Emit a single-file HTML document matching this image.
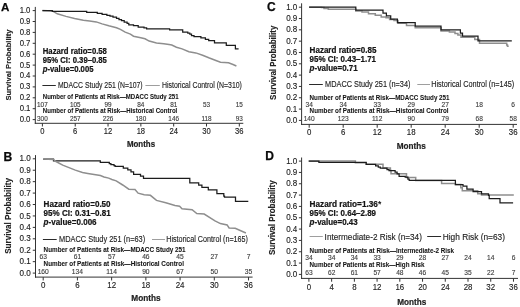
<!DOCTYPE html>
<html><head><meta charset="utf-8"><style>
html,body{margin:0;padding:0;background:#fff;}
body{width:520px;height:307px;overflow:hidden;}
svg{display:block;font-family:"Liberation Sans", sans-serif;will-change:transform;}
</style></head><body>
<svg width="520" height="307" viewBox="0 0 520 307">
<rect width="520" height="307" fill="#fff"/>
<text transform="translate(0.90,11.30) scale(1.0,1.0)" font-size="11.60" font-weight="bold" text-anchor="start" fill="#0a0a0a" stroke="#0a0a0a" stroke-width="0.25">A</text>
<text transform="translate(10.80,65.10) rotate(-90)" x="0" y="0" font-size="8.00" font-weight="bold" text-anchor="middle" fill="#222" stroke="#222" stroke-width="0.12" textLength="71.0" lengthAdjust="spacingAndGlyphs">Survival Probability</text>
<line x1="35.30" y1="6.90" x2="35.30" y2="123.80" stroke="#333" stroke-width="1"/>
<line x1="34.80" y1="123.30" x2="243.30" y2="123.30" stroke="#333" stroke-width="1"/>
<line x1="32.70" y1="119.60" x2="35.30" y2="119.60" stroke="#333" stroke-width="1"/>
<text transform="translate(30.40,122.05) scale(1.0,1.1)" font-size="7.75" font-weight="normal" text-anchor="end" fill="#222" stroke="#222" stroke-width="0.12">0.0</text>
<line x1="32.70" y1="108.70" x2="35.30" y2="108.70" stroke="#333" stroke-width="1"/>
<text transform="translate(30.40,111.15) scale(1.0,1.1)" font-size="7.75" font-weight="normal" text-anchor="end" fill="#222" stroke="#222" stroke-width="0.12">0.1</text>
<line x1="32.70" y1="97.80" x2="35.30" y2="97.80" stroke="#333" stroke-width="1"/>
<text transform="translate(30.40,100.25) scale(1.0,1.1)" font-size="7.75" font-weight="normal" text-anchor="end" fill="#222" stroke="#222" stroke-width="0.12">0.2</text>
<line x1="32.70" y1="86.90" x2="35.30" y2="86.90" stroke="#333" stroke-width="1"/>
<text transform="translate(30.40,89.35) scale(1.0,1.1)" font-size="7.75" font-weight="normal" text-anchor="end" fill="#222" stroke="#222" stroke-width="0.12">0.3</text>
<line x1="32.70" y1="76.00" x2="35.30" y2="76.00" stroke="#333" stroke-width="1"/>
<text transform="translate(30.40,78.45) scale(1.0,1.1)" font-size="7.75" font-weight="normal" text-anchor="end" fill="#222" stroke="#222" stroke-width="0.12">0.4</text>
<line x1="32.70" y1="65.10" x2="35.30" y2="65.10" stroke="#333" stroke-width="1"/>
<text transform="translate(30.40,67.55) scale(1.0,1.1)" font-size="7.75" font-weight="normal" text-anchor="end" fill="#222" stroke="#222" stroke-width="0.12">0.5</text>
<line x1="32.70" y1="54.20" x2="35.30" y2="54.20" stroke="#333" stroke-width="1"/>
<text transform="translate(30.40,56.65) scale(1.0,1.1)" font-size="7.75" font-weight="normal" text-anchor="end" fill="#222" stroke="#222" stroke-width="0.12">0.6</text>
<line x1="32.70" y1="43.30" x2="35.30" y2="43.30" stroke="#333" stroke-width="1"/>
<text transform="translate(30.40,45.75) scale(1.0,1.1)" font-size="7.75" font-weight="normal" text-anchor="end" fill="#222" stroke="#222" stroke-width="0.12">0.7</text>
<line x1="32.70" y1="32.40" x2="35.30" y2="32.40" stroke="#333" stroke-width="1"/>
<text transform="translate(30.40,34.85) scale(1.0,1.1)" font-size="7.75" font-weight="normal" text-anchor="end" fill="#222" stroke="#222" stroke-width="0.12">0.8</text>
<line x1="32.70" y1="21.50" x2="35.30" y2="21.50" stroke="#333" stroke-width="1"/>
<text transform="translate(30.40,23.95) scale(1.0,1.1)" font-size="7.75" font-weight="normal" text-anchor="end" fill="#222" stroke="#222" stroke-width="0.12">0.9</text>
<line x1="32.70" y1="10.60" x2="35.30" y2="10.60" stroke="#333" stroke-width="1"/>
<text transform="translate(30.40,13.05) scale(1.0,1.1)" font-size="7.75" font-weight="normal" text-anchor="end" fill="#222" stroke="#222" stroke-width="0.12">1.0</text>
<line x1="42.40" y1="123.30" x2="42.40" y2="126.50" stroke="#333" stroke-width="1"/>
<text transform="translate(42.40,134.00) scale(1.0,1.1)" font-size="7.60" font-weight="normal" text-anchor="middle" fill="#222" stroke="#222" stroke-width="0.12">0</text>
<line x1="75.22" y1="123.30" x2="75.22" y2="126.50" stroke="#333" stroke-width="1"/>
<text transform="translate(75.22,134.00) scale(1.0,1.1)" font-size="7.60" font-weight="normal" text-anchor="middle" fill="#222" stroke="#222" stroke-width="0.12">6</text>
<line x1="108.04" y1="123.30" x2="108.04" y2="126.50" stroke="#333" stroke-width="1"/>
<text transform="translate(108.04,134.00) scale(1.0,1.1)" font-size="7.60" font-weight="normal" text-anchor="middle" fill="#222" stroke="#222" stroke-width="0.12">12</text>
<line x1="140.86" y1="123.30" x2="140.86" y2="126.50" stroke="#333" stroke-width="1"/>
<text transform="translate(140.86,134.00) scale(1.0,1.1)" font-size="7.60" font-weight="normal" text-anchor="middle" fill="#222" stroke="#222" stroke-width="0.12">18</text>
<line x1="173.68" y1="123.30" x2="173.68" y2="126.50" stroke="#333" stroke-width="1"/>
<text transform="translate(173.68,134.00) scale(1.0,1.1)" font-size="7.60" font-weight="normal" text-anchor="middle" fill="#222" stroke="#222" stroke-width="0.12">24</text>
<line x1="206.50" y1="123.30" x2="206.50" y2="126.50" stroke="#333" stroke-width="1"/>
<text transform="translate(206.50,134.00) scale(1.0,1.1)" font-size="7.60" font-weight="normal" text-anchor="middle" fill="#222" stroke="#222" stroke-width="0.12">30</text>
<line x1="239.32" y1="123.30" x2="239.32" y2="126.50" stroke="#333" stroke-width="1"/>
<text transform="translate(239.32,134.00) scale(1.0,1.1)" font-size="7.60" font-weight="normal" text-anchor="middle" fill="#222" stroke="#222" stroke-width="0.12">36</text>
<text transform="translate(141.00,147.30) scale(1.0,1.1)" font-size="7.90" font-weight="bold" text-anchor="middle" fill="#222" stroke="#222" stroke-width="0.2">Months</text>
<text transform="translate(42.80,53.80) scale(1.0,1.1)" font-size="7.70" font-weight="bold" text-anchor="start" fill="#141414" stroke="#141414" stroke-width="0.2" textLength="64.1" lengthAdjust="spacingAndGlyphs">Hazard ratio=0.58</text>
<text transform="translate(42.80,62.70) scale(1.0,1.1)" font-size="7.70" font-weight="bold" text-anchor="start" fill="#141414" stroke="#141414" stroke-width="0.2">95% CI: 0.39–0.85</text>
<text transform="translate(42.80,71.60) scale(1.0,1.1)" font-size="7.70" font-weight="bold" text-anchor="start" fill="#141414" stroke="#141414" stroke-width="0.2"><tspan font-style="italic">p</tspan>-value=0.005</text>
<line x1="42.40" y1="85.50" x2="55.80" y2="85.50" stroke="#2a2a2a" stroke-width="1.0"/>
<text transform="translate(57.90,87.70) scale(1.0,1.1)" font-size="7.70" font-weight="normal" text-anchor="start" fill="#222" stroke="#222" stroke-width="0.12" textLength="84.7" lengthAdjust="spacingAndGlyphs">MDACC Study 251 (N=107)</text>
<line x1="145.40" y1="85.50" x2="159.80" y2="85.50" stroke="#9e9e9e" stroke-width="1.0"/>
<text transform="translate(162.00,87.70) scale(1.0,1.1)" font-size="7.70" font-weight="normal" text-anchor="start" fill="#222" stroke="#222" stroke-width="0.12" textLength="79.9" lengthAdjust="spacingAndGlyphs">Historical Control (N=310)</text>
<text transform="translate(42.80,99.20) scale(1.0,1.1)" font-size="6.00" font-weight="bold" text-anchor="start" fill="#141414" stroke="#141414" stroke-width="0.06" textLength="135.7" lengthAdjust="spacingAndGlyphs">Number of Patients at Risk—MDACC Study 251</text>
<text transform="translate(42.80,113.40) scale(1.0,1.1)" font-size="6.00" font-weight="bold" text-anchor="start" fill="#141414" stroke="#141414" stroke-width="0.06" textLength="134.5" lengthAdjust="spacingAndGlyphs">Number of Patients at Risk—Historical Control</text>
<text transform="translate(42.40,106.60) scale(1.0,1.1)" font-size="6.40" font-weight="normal" text-anchor="middle" fill="#3c3c3c" stroke="#3c3c3c" stroke-width="0.12">107</text>
<text transform="translate(75.22,106.60) scale(1.0,1.1)" font-size="6.40" font-weight="normal" text-anchor="middle" fill="#3c3c3c" stroke="#3c3c3c" stroke-width="0.12">105</text>
<text transform="translate(108.04,106.60) scale(1.0,1.1)" font-size="6.40" font-weight="normal" text-anchor="middle" fill="#3c3c3c" stroke="#3c3c3c" stroke-width="0.12">99</text>
<text transform="translate(140.86,106.60) scale(1.0,1.1)" font-size="6.40" font-weight="normal" text-anchor="middle" fill="#3c3c3c" stroke="#3c3c3c" stroke-width="0.12">84</text>
<text transform="translate(173.68,106.60) scale(1.0,1.1)" font-size="6.40" font-weight="normal" text-anchor="middle" fill="#3c3c3c" stroke="#3c3c3c" stroke-width="0.12">81</text>
<text transform="translate(206.50,106.60) scale(1.0,1.1)" font-size="6.40" font-weight="normal" text-anchor="middle" fill="#3c3c3c" stroke="#3c3c3c" stroke-width="0.12">53</text>
<text transform="translate(239.32,106.60) scale(1.0,1.1)" font-size="6.40" font-weight="normal" text-anchor="middle" fill="#3c3c3c" stroke="#3c3c3c" stroke-width="0.12">15</text>
<text transform="translate(42.40,120.60) scale(1.0,1.1)" font-size="6.40" font-weight="normal" text-anchor="middle" fill="#3c3c3c" stroke="#3c3c3c" stroke-width="0.12">300</text>
<text transform="translate(75.22,120.60) scale(1.0,1.1)" font-size="6.40" font-weight="normal" text-anchor="middle" fill="#3c3c3c" stroke="#3c3c3c" stroke-width="0.12">257</text>
<text transform="translate(108.04,120.60) scale(1.0,1.1)" font-size="6.40" font-weight="normal" text-anchor="middle" fill="#3c3c3c" stroke="#3c3c3c" stroke-width="0.12">226</text>
<text transform="translate(140.86,120.60) scale(1.0,1.1)" font-size="6.40" font-weight="normal" text-anchor="middle" fill="#3c3c3c" stroke="#3c3c3c" stroke-width="0.12">180</text>
<text transform="translate(173.68,120.60) scale(1.0,1.1)" font-size="6.40" font-weight="normal" text-anchor="middle" fill="#3c3c3c" stroke="#3c3c3c" stroke-width="0.12">146</text>
<text transform="translate(206.50,120.60) scale(1.0,1.1)" font-size="6.40" font-weight="normal" text-anchor="middle" fill="#3c3c3c" stroke="#3c3c3c" stroke-width="0.12">118</text>
<text transform="translate(239.32,120.60) scale(1.0,1.1)" font-size="6.40" font-weight="normal" text-anchor="middle" fill="#3c3c3c" stroke="#3c3c3c" stroke-width="0.12">93</text>
<path d="M42.4,10.6 L52.3,10.9 L57.3,13.8 L66.0,16.4 L74.6,18.5 L83.3,20.3 L89.6,20.9 L96.3,21.9 L102.1,23.9 L108.8,25.8 L116.5,27.7 L120.4,29.4 L125.2,32.1 L130.4,34.1 L133.5,36.2 L140.8,37.8 L145.0,38.8 L149.2,41.1 L156.5,42.9 L163.8,43.8 L169.0,44.6 L171.8,45.0 L176.4,47.2 L182.1,48.9 L188.9,51.8 L195.8,52.9 L202.6,55.2 L209.4,58.0 L215.9,60.5 L220.5,62.2 L228.5,62.8 L233.0,64.5 L236.4,66.0" fill="none" stroke="#8e8e8e" stroke-width="1.5" stroke-linejoin="miter"/>
<path d="M42.4,10.6 L52.3,10.6 L52.3,11.4 L86.7,11.4 L86.7,12.3 L97.3,12.3 L97.3,13.3 L102.1,13.3 L102.1,14.3 L106.9,14.3 L106.9,15.3 L110.0,15.3 L110.0,16.2 L113.0,16.2 L113.0,17.0 L116.5,17.0 L116.5,18.4 L119.0,18.4 L119.0,19.6 L121.5,19.6 L121.5,20.6 L124.2,20.6 L124.2,22.0 L127.1,22.0 L127.1,23.3 L128.8,23.3 L128.8,24.8 L133.5,24.8 L133.5,25.5 L138.2,25.5 L138.2,27.2 L144.0,27.2 L144.0,27.9 L146.6,27.9 L146.6,28.9 L169.6,28.9 L169.6,29.8 L182.7,29.8 L182.7,32.2 L187.8,32.2 L187.8,33.0 L189.8,33.0 L189.8,34.2 L191.5,34.2 L191.5,35.6 L194.0,35.6 L194.0,36.5 L200.9,36.5 L200.9,37.8 L205.4,37.8 L205.4,39.4 L208.7,39.4 L208.7,40.6 L214.5,40.6 L214.5,42.8 L226.3,42.8 L226.3,45.3 L235.4,45.3 L235.4,48.9 L238.6,48.9" fill="none" stroke="#1c1c1c" stroke-width="1.25" stroke-linejoin="miter"/>
<text transform="translate(3.40,161.40) scale(1.0,1.0)" font-size="12.12" font-weight="bold" text-anchor="start" fill="#0a0a0a" stroke="#0a0a0a" stroke-width="0.25">B</text>
<text transform="translate(10.80,215.95) rotate(-90)" x="0" y="0" font-size="8.36" font-weight="bold" text-anchor="middle" fill="#222" stroke="#222" stroke-width="0.12" textLength="75.7" lengthAdjust="spacingAndGlyphs">Survival Probability</text>
<line x1="35.50" y1="155.10" x2="35.50" y2="277.60" stroke="#333" stroke-width="1"/>
<line x1="35.00" y1="277.10" x2="252.60" y2="277.10" stroke="#333" stroke-width="1"/>
<line x1="32.78" y1="273.10" x2="35.50" y2="273.10" stroke="#333" stroke-width="1"/>
<text transform="translate(30.80,275.66) scale(1.0,1.1)" font-size="8.10" font-weight="normal" text-anchor="end" fill="#222" stroke="#222" stroke-width="0.12">0.0</text>
<line x1="32.78" y1="261.67" x2="35.50" y2="261.67" stroke="#333" stroke-width="1"/>
<text transform="translate(30.80,264.23) scale(1.0,1.1)" font-size="8.10" font-weight="normal" text-anchor="end" fill="#222" stroke="#222" stroke-width="0.12">0.1</text>
<line x1="32.78" y1="250.24" x2="35.50" y2="250.24" stroke="#333" stroke-width="1"/>
<text transform="translate(30.80,252.80) scale(1.0,1.1)" font-size="8.10" font-weight="normal" text-anchor="end" fill="#222" stroke="#222" stroke-width="0.12">0.2</text>
<line x1="32.78" y1="238.81" x2="35.50" y2="238.81" stroke="#333" stroke-width="1"/>
<text transform="translate(30.80,241.37) scale(1.0,1.1)" font-size="8.10" font-weight="normal" text-anchor="end" fill="#222" stroke="#222" stroke-width="0.12">0.3</text>
<line x1="32.78" y1="227.38" x2="35.50" y2="227.38" stroke="#333" stroke-width="1"/>
<text transform="translate(30.80,229.94) scale(1.0,1.1)" font-size="8.10" font-weight="normal" text-anchor="end" fill="#222" stroke="#222" stroke-width="0.12">0.4</text>
<line x1="32.78" y1="215.95" x2="35.50" y2="215.95" stroke="#333" stroke-width="1"/>
<text transform="translate(30.80,218.51) scale(1.0,1.1)" font-size="8.10" font-weight="normal" text-anchor="end" fill="#222" stroke="#222" stroke-width="0.12">0.5</text>
<line x1="32.78" y1="204.52" x2="35.50" y2="204.52" stroke="#333" stroke-width="1"/>
<text transform="translate(30.80,207.08) scale(1.0,1.1)" font-size="8.10" font-weight="normal" text-anchor="end" fill="#222" stroke="#222" stroke-width="0.12">0.6</text>
<line x1="32.78" y1="193.09" x2="35.50" y2="193.09" stroke="#333" stroke-width="1"/>
<text transform="translate(30.80,195.65) scale(1.0,1.1)" font-size="8.10" font-weight="normal" text-anchor="end" fill="#222" stroke="#222" stroke-width="0.12">0.7</text>
<line x1="32.78" y1="181.66" x2="35.50" y2="181.66" stroke="#333" stroke-width="1"/>
<text transform="translate(30.80,184.22) scale(1.0,1.1)" font-size="8.10" font-weight="normal" text-anchor="end" fill="#222" stroke="#222" stroke-width="0.12">0.8</text>
<line x1="32.78" y1="170.23" x2="35.50" y2="170.23" stroke="#333" stroke-width="1"/>
<text transform="translate(30.80,172.79) scale(1.0,1.1)" font-size="8.10" font-weight="normal" text-anchor="end" fill="#222" stroke="#222" stroke-width="0.12">0.9</text>
<line x1="32.78" y1="158.80" x2="35.50" y2="158.80" stroke="#333" stroke-width="1"/>
<text transform="translate(30.80,161.36) scale(1.0,1.1)" font-size="8.10" font-weight="normal" text-anchor="end" fill="#222" stroke="#222" stroke-width="0.12">1.0</text>
<line x1="43.20" y1="277.10" x2="43.20" y2="280.44" stroke="#333" stroke-width="1"/>
<text transform="translate(43.20,287.90) scale(1.0,1.1)" font-size="7.94" font-weight="normal" text-anchor="middle" fill="#222" stroke="#222" stroke-width="0.12">0</text>
<line x1="77.42" y1="277.10" x2="77.42" y2="280.44" stroke="#333" stroke-width="1"/>
<text transform="translate(77.42,287.90) scale(1.0,1.1)" font-size="7.94" font-weight="normal" text-anchor="middle" fill="#222" stroke="#222" stroke-width="0.12">6</text>
<line x1="111.64" y1="277.10" x2="111.64" y2="280.44" stroke="#333" stroke-width="1"/>
<text transform="translate(111.64,287.90) scale(1.0,1.1)" font-size="7.94" font-weight="normal" text-anchor="middle" fill="#222" stroke="#222" stroke-width="0.12">12</text>
<line x1="145.86" y1="277.10" x2="145.86" y2="280.44" stroke="#333" stroke-width="1"/>
<text transform="translate(145.86,287.90) scale(1.0,1.1)" font-size="7.94" font-weight="normal" text-anchor="middle" fill="#222" stroke="#222" stroke-width="0.12">18</text>
<line x1="180.08" y1="277.10" x2="180.08" y2="280.44" stroke="#333" stroke-width="1"/>
<text transform="translate(180.08,287.90) scale(1.0,1.1)" font-size="7.94" font-weight="normal" text-anchor="middle" fill="#222" stroke="#222" stroke-width="0.12">24</text>
<line x1="214.30" y1="277.10" x2="214.30" y2="280.44" stroke="#333" stroke-width="1"/>
<text transform="translate(214.30,287.90) scale(1.0,1.1)" font-size="7.94" font-weight="normal" text-anchor="middle" fill="#222" stroke="#222" stroke-width="0.12">30</text>
<line x1="248.52" y1="277.10" x2="248.52" y2="280.44" stroke="#333" stroke-width="1"/>
<text transform="translate(248.52,287.90) scale(1.0,1.1)" font-size="7.94" font-weight="normal" text-anchor="middle" fill="#222" stroke="#222" stroke-width="0.12">36</text>
<text transform="translate(146.00,301.30) scale(1.0,1.1)" font-size="8.26" font-weight="bold" text-anchor="middle" fill="#222" stroke="#222" stroke-width="0.2">Months</text>
<text transform="translate(43.60,207.00) scale(1.0,1.1)" font-size="8.05" font-weight="bold" text-anchor="start" fill="#141414" stroke="#141414" stroke-width="0.2" textLength="67.0" lengthAdjust="spacingAndGlyphs">Hazard ratio=0.50</text>
<text transform="translate(43.60,216.40) scale(1.0,1.1)" font-size="8.05" font-weight="bold" text-anchor="start" fill="#141414" stroke="#141414" stroke-width="0.2">95% CI: 0.31–0.81</text>
<text transform="translate(43.60,225.40) scale(1.0,1.1)" font-size="8.05" font-weight="bold" text-anchor="start" fill="#141414" stroke="#141414" stroke-width="0.2"><tspan font-style="italic">p</tspan>-value=0.006</text>
<line x1="42.90" y1="239.50" x2="56.70" y2="239.50" stroke="#2a2a2a" stroke-width="1.0"/>
<text transform="translate(59.10,241.70) scale(1.0,1.1)" font-size="8.05" font-weight="normal" text-anchor="start" fill="#222" stroke="#222" stroke-width="0.12" textLength="86.1" lengthAdjust="spacingAndGlyphs">MDACC Study 251 (n=63)</text>
<line x1="152.00" y1="239.50" x2="165.00" y2="239.50" stroke="#9e9e9e" stroke-width="1.0"/>
<text transform="translate(166.20,241.70) scale(1.0,1.1)" font-size="8.05" font-weight="normal" text-anchor="start" fill="#222" stroke="#222" stroke-width="0.12" textLength="81.8" lengthAdjust="spacingAndGlyphs">Historical Control (n=165)</text>
<text transform="translate(43.60,251.80) scale(1.0,1.1)" font-size="6.27" font-weight="bold" text-anchor="start" fill="#141414" stroke="#141414" stroke-width="0.06" textLength="142.0" lengthAdjust="spacingAndGlyphs">Number of Patients at Risk—MDACC Study 251</text>
<text transform="translate(43.60,266.00) scale(1.0,1.1)" font-size="6.27" font-weight="bold" text-anchor="start" fill="#141414" stroke="#141414" stroke-width="0.06" textLength="140.3" lengthAdjust="spacingAndGlyphs">Number of Patients at Risk—Historical Control</text>
<text transform="translate(43.20,259.30) scale(1.0,1.1)" font-size="6.69" font-weight="normal" text-anchor="middle" fill="#3c3c3c" stroke="#3c3c3c" stroke-width="0.12">63</text>
<text transform="translate(77.42,259.30) scale(1.0,1.1)" font-size="6.69" font-weight="normal" text-anchor="middle" fill="#3c3c3c" stroke="#3c3c3c" stroke-width="0.12">61</text>
<text transform="translate(111.64,259.30) scale(1.0,1.1)" font-size="6.69" font-weight="normal" text-anchor="middle" fill="#3c3c3c" stroke="#3c3c3c" stroke-width="0.12">57</text>
<text transform="translate(145.86,259.30) scale(1.0,1.1)" font-size="6.69" font-weight="normal" text-anchor="middle" fill="#3c3c3c" stroke="#3c3c3c" stroke-width="0.12">46</text>
<text transform="translate(180.08,259.30) scale(1.0,1.1)" font-size="6.69" font-weight="normal" text-anchor="middle" fill="#3c3c3c" stroke="#3c3c3c" stroke-width="0.12">45</text>
<text transform="translate(214.30,259.30) scale(1.0,1.1)" font-size="6.69" font-weight="normal" text-anchor="middle" fill="#3c3c3c" stroke="#3c3c3c" stroke-width="0.12">27</text>
<text transform="translate(248.52,259.30) scale(1.0,1.1)" font-size="6.69" font-weight="normal" text-anchor="middle" fill="#3c3c3c" stroke="#3c3c3c" stroke-width="0.12">7</text>
<text transform="translate(43.20,273.70) scale(1.0,1.1)" font-size="6.69" font-weight="normal" text-anchor="middle" fill="#3c3c3c" stroke="#3c3c3c" stroke-width="0.12">160</text>
<text transform="translate(77.42,273.70) scale(1.0,1.1)" font-size="6.69" font-weight="normal" text-anchor="middle" fill="#3c3c3c" stroke="#3c3c3c" stroke-width="0.12">134</text>
<text transform="translate(111.64,273.70) scale(1.0,1.1)" font-size="6.69" font-weight="normal" text-anchor="middle" fill="#3c3c3c" stroke="#3c3c3c" stroke-width="0.12">114</text>
<text transform="translate(145.86,273.70) scale(1.0,1.1)" font-size="6.69" font-weight="normal" text-anchor="middle" fill="#3c3c3c" stroke="#3c3c3c" stroke-width="0.12">90</text>
<text transform="translate(180.08,273.70) scale(1.0,1.1)" font-size="6.69" font-weight="normal" text-anchor="middle" fill="#3c3c3c" stroke="#3c3c3c" stroke-width="0.12">67</text>
<text transform="translate(214.30,273.70) scale(1.0,1.1)" font-size="6.69" font-weight="normal" text-anchor="middle" fill="#3c3c3c" stroke="#3c3c3c" stroke-width="0.12">50</text>
<text transform="translate(248.52,273.70) scale(1.0,1.1)" font-size="6.69" font-weight="normal" text-anchor="middle" fill="#3c3c3c" stroke="#3c3c3c" stroke-width="0.12">35</text>
<path d="M43.2,159.0 L53.5,159.0 L53.5,160.8 L100.3,160.8 L100.3,162.4 L109.3,162.4 L109.3,163.5 L110.9,163.5 L110.9,164.5 L114.0,164.5 L114.0,165.6 L115.1,165.6 L115.1,166.4 L123.3,166.4 L123.3,168.2 L127.8,168.2 L127.8,169.8 L131.0,169.8 L131.0,171.9 L133.6,171.9 L133.6,174.4 L140.5,174.4 L140.5,176.2 L143.5,176.2 L143.5,178.4 L189.8,178.4 L189.8,182.8 L198.7,182.8 L198.7,185.2 L201.9,185.2 L201.9,187.3 L208.3,187.3 L208.3,189.8 L216.9,189.8 L216.9,193.6 L223.8,193.6 L223.8,196.1 L224.5,196.1 L224.5,197.2 L235.5,197.2 L235.5,201.3 L248.3,201.3" fill="none" stroke="#1c1c1c" stroke-width="1.25" stroke-linejoin="miter"/>
<path d="M43.2,159.0 L53.5,159.5 L56.0,161.5 L62.7,165.1 L75.3,170.1 L82.5,172.5 L87.8,173.4 L100.4,175.6 L104.0,177.0 L108.7,178.1 L111.9,179.5 L116.2,180.9 L122.7,185.0 L128.8,189.2 L135.0,189.6 L138.1,193.2 L144.2,194.7 L150.4,195.3 L156.5,200.4 L165.8,202.7 L175.0,205.5 L179.6,206.3 L182.0,208.7 L192.1,209.7 L196.8,213.5 L204.2,214.1 L215.0,220.9 L220.4,223.6 L227.1,224.9 L229.1,228.0 L235.2,228.3 L245.9,233.0" fill="none" stroke="#8e8e8e" stroke-width="1.5" stroke-linejoin="miter"/>
<text transform="translate(267.00,10.50) scale(1.0,1.0)" font-size="12.03" font-weight="bold" text-anchor="start" fill="#0a0a0a" stroke="#0a0a0a" stroke-width="0.25">C</text>
<text transform="translate(276.00,62.80) rotate(-90)" x="0" y="0" font-size="8.30" font-weight="bold" text-anchor="middle" fill="#222" stroke="#222" stroke-width="0.12" textLength="74.2" lengthAdjust="spacingAndGlyphs">Survival Probability</text>
<line x1="301.60" y1="3.30" x2="301.60" y2="124.90" stroke="#333" stroke-width="1"/>
<line x1="301.10" y1="124.40" x2="517.00" y2="124.40" stroke="#333" stroke-width="1"/>
<line x1="298.90" y1="120.40" x2="301.60" y2="120.40" stroke="#333" stroke-width="1"/>
<text transform="translate(297.30,122.94) scale(1.0,1.1)" font-size="8.04" font-weight="normal" text-anchor="end" fill="#222" stroke="#222" stroke-width="0.12">0.0</text>
<line x1="298.90" y1="109.08" x2="301.60" y2="109.08" stroke="#333" stroke-width="1"/>
<text transform="translate(297.30,111.62) scale(1.0,1.1)" font-size="8.04" font-weight="normal" text-anchor="end" fill="#222" stroke="#222" stroke-width="0.12">0.1</text>
<line x1="298.90" y1="97.76" x2="301.60" y2="97.76" stroke="#333" stroke-width="1"/>
<text transform="translate(297.30,100.30) scale(1.0,1.1)" font-size="8.04" font-weight="normal" text-anchor="end" fill="#222" stroke="#222" stroke-width="0.12">0.2</text>
<line x1="298.90" y1="86.44" x2="301.60" y2="86.44" stroke="#333" stroke-width="1"/>
<text transform="translate(297.30,88.98) scale(1.0,1.1)" font-size="8.04" font-weight="normal" text-anchor="end" fill="#222" stroke="#222" stroke-width="0.12">0.3</text>
<line x1="298.90" y1="75.12" x2="301.60" y2="75.12" stroke="#333" stroke-width="1"/>
<text transform="translate(297.30,77.66) scale(1.0,1.1)" font-size="8.04" font-weight="normal" text-anchor="end" fill="#222" stroke="#222" stroke-width="0.12">0.4</text>
<line x1="298.90" y1="63.80" x2="301.60" y2="63.80" stroke="#333" stroke-width="1"/>
<text transform="translate(297.30,66.34) scale(1.0,1.1)" font-size="8.04" font-weight="normal" text-anchor="end" fill="#222" stroke="#222" stroke-width="0.12">0.5</text>
<line x1="298.90" y1="52.48" x2="301.60" y2="52.48" stroke="#333" stroke-width="1"/>
<text transform="translate(297.30,55.02) scale(1.0,1.1)" font-size="8.04" font-weight="normal" text-anchor="end" fill="#222" stroke="#222" stroke-width="0.12">0.6</text>
<line x1="298.90" y1="41.16" x2="301.60" y2="41.16" stroke="#333" stroke-width="1"/>
<text transform="translate(297.30,43.70) scale(1.0,1.1)" font-size="8.04" font-weight="normal" text-anchor="end" fill="#222" stroke="#222" stroke-width="0.12">0.7</text>
<line x1="298.90" y1="29.84" x2="301.60" y2="29.84" stroke="#333" stroke-width="1"/>
<text transform="translate(297.30,32.38) scale(1.0,1.1)" font-size="8.04" font-weight="normal" text-anchor="end" fill="#222" stroke="#222" stroke-width="0.12">0.8</text>
<line x1="298.90" y1="18.52" x2="301.60" y2="18.52" stroke="#333" stroke-width="1"/>
<text transform="translate(297.30,21.06) scale(1.0,1.1)" font-size="8.04" font-weight="normal" text-anchor="end" fill="#222" stroke="#222" stroke-width="0.12">0.9</text>
<line x1="298.90" y1="7.20" x2="301.60" y2="7.20" stroke="#333" stroke-width="1"/>
<text transform="translate(297.30,9.74) scale(1.0,1.1)" font-size="8.04" font-weight="normal" text-anchor="end" fill="#222" stroke="#222" stroke-width="0.12">1.0</text>
<line x1="309.20" y1="124.40" x2="309.20" y2="127.72" stroke="#333" stroke-width="1"/>
<text transform="translate(309.20,135.00) scale(1.0,1.1)" font-size="7.88" font-weight="normal" text-anchor="middle" fill="#222" stroke="#222" stroke-width="0.12">0</text>
<line x1="343.20" y1="124.40" x2="343.20" y2="127.72" stroke="#333" stroke-width="1"/>
<text transform="translate(343.20,135.00) scale(1.0,1.1)" font-size="7.88" font-weight="normal" text-anchor="middle" fill="#222" stroke="#222" stroke-width="0.12">6</text>
<line x1="377.20" y1="124.40" x2="377.20" y2="127.72" stroke="#333" stroke-width="1"/>
<text transform="translate(377.20,135.00) scale(1.0,1.1)" font-size="7.88" font-weight="normal" text-anchor="middle" fill="#222" stroke="#222" stroke-width="0.12">12</text>
<line x1="411.20" y1="124.40" x2="411.20" y2="127.72" stroke="#333" stroke-width="1"/>
<text transform="translate(411.20,135.00) scale(1.0,1.1)" font-size="7.88" font-weight="normal" text-anchor="middle" fill="#222" stroke="#222" stroke-width="0.12">18</text>
<line x1="445.20" y1="124.40" x2="445.20" y2="127.72" stroke="#333" stroke-width="1"/>
<text transform="translate(445.20,135.00) scale(1.0,1.1)" font-size="7.88" font-weight="normal" text-anchor="middle" fill="#222" stroke="#222" stroke-width="0.12">24</text>
<line x1="479.20" y1="124.40" x2="479.20" y2="127.72" stroke="#333" stroke-width="1"/>
<text transform="translate(479.20,135.00) scale(1.0,1.1)" font-size="7.88" font-weight="normal" text-anchor="middle" fill="#222" stroke="#222" stroke-width="0.12">30</text>
<line x1="513.20" y1="124.40" x2="513.20" y2="127.72" stroke="#333" stroke-width="1"/>
<text transform="translate(513.20,135.00) scale(1.0,1.1)" font-size="7.88" font-weight="normal" text-anchor="middle" fill="#222" stroke="#222" stroke-width="0.12">36</text>
<text transform="translate(411.20,148.80) scale(1.0,1.1)" font-size="8.19" font-weight="bold" text-anchor="middle" fill="#222" stroke="#222" stroke-width="0.2">Months</text>
<text transform="translate(309.60,53.00) scale(1.0,1.1)" font-size="7.98" font-weight="bold" text-anchor="start" fill="#141414" stroke="#141414" stroke-width="0.2" textLength="66.8" lengthAdjust="spacingAndGlyphs">Hazard ratio=0.85</text>
<text transform="translate(309.60,62.10) scale(1.0,1.1)" font-size="7.98" font-weight="bold" text-anchor="start" fill="#141414" stroke="#141414" stroke-width="0.2">95% CI: 0.43–1.71</text>
<text transform="translate(309.60,70.80) scale(1.0,1.1)" font-size="7.98" font-weight="bold" text-anchor="start" fill="#141414" stroke="#141414" stroke-width="0.2"><tspan font-style="italic">p</tspan>-value=0.71</text>
<line x1="309.10" y1="84.50" x2="322.80" y2="84.50" stroke="#2a2a2a" stroke-width="1.0"/>
<text transform="translate(325.10,86.90) scale(1.0,1.1)" font-size="7.98" font-weight="normal" text-anchor="start" fill="#222" stroke="#222" stroke-width="0.12" textLength="85.3" lengthAdjust="spacingAndGlyphs">MDACC Study 251 (n=34)</text>
<line x1="417.30" y1="84.50" x2="430.00" y2="84.50" stroke="#9e9e9e" stroke-width="1.0"/>
<text transform="translate(431.20,86.90) scale(1.0,1.1)" font-size="7.98" font-weight="normal" text-anchor="start" fill="#222" stroke="#222" stroke-width="0.12" textLength="83.0" lengthAdjust="spacingAndGlyphs">Historical Control (n=145)</text>
<text transform="translate(309.60,99.50) scale(1.0,1.1)" font-size="6.22" font-weight="bold" text-anchor="start" fill="#141414" stroke="#141414" stroke-width="0.06" textLength="139.9" lengthAdjust="spacingAndGlyphs">Number of Patients at Risk—MDACC Study 251</text>
<text transform="translate(309.60,113.40) scale(1.0,1.1)" font-size="6.22" font-weight="bold" text-anchor="start" fill="#141414" stroke="#141414" stroke-width="0.06" textLength="139.0" lengthAdjust="spacingAndGlyphs">Number of Patients at Risk—Historical Control</text>
<text transform="translate(309.20,106.60) scale(1.0,1.1)" font-size="6.64" font-weight="normal" text-anchor="middle" fill="#3c3c3c" stroke="#3c3c3c" stroke-width="0.12">34</text>
<text transform="translate(343.20,106.60) scale(1.0,1.1)" font-size="6.64" font-weight="normal" text-anchor="middle" fill="#3c3c3c" stroke="#3c3c3c" stroke-width="0.12">34</text>
<text transform="translate(377.20,106.60) scale(1.0,1.1)" font-size="6.64" font-weight="normal" text-anchor="middle" fill="#3c3c3c" stroke="#3c3c3c" stroke-width="0.12">33</text>
<text transform="translate(411.20,106.60) scale(1.0,1.1)" font-size="6.64" font-weight="normal" text-anchor="middle" fill="#3c3c3c" stroke="#3c3c3c" stroke-width="0.12">29</text>
<text transform="translate(445.20,106.60) scale(1.0,1.1)" font-size="6.64" font-weight="normal" text-anchor="middle" fill="#3c3c3c" stroke="#3c3c3c" stroke-width="0.12">27</text>
<text transform="translate(479.20,106.60) scale(1.0,1.1)" font-size="6.64" font-weight="normal" text-anchor="middle" fill="#3c3c3c" stroke="#3c3c3c" stroke-width="0.12">18</text>
<text transform="translate(513.20,106.60) scale(1.0,1.1)" font-size="6.64" font-weight="normal" text-anchor="middle" fill="#3c3c3c" stroke="#3c3c3c" stroke-width="0.12">6</text>
<text transform="translate(309.20,121.00) scale(1.0,1.1)" font-size="6.64" font-weight="normal" text-anchor="middle" fill="#3c3c3c" stroke="#3c3c3c" stroke-width="0.12">140</text>
<text transform="translate(343.20,121.00) scale(1.0,1.1)" font-size="6.64" font-weight="normal" text-anchor="middle" fill="#3c3c3c" stroke="#3c3c3c" stroke-width="0.12">123</text>
<text transform="translate(377.20,121.00) scale(1.0,1.1)" font-size="6.64" font-weight="normal" text-anchor="middle" fill="#3c3c3c" stroke="#3c3c3c" stroke-width="0.12">112</text>
<text transform="translate(411.20,121.00) scale(1.0,1.1)" font-size="6.64" font-weight="normal" text-anchor="middle" fill="#3c3c3c" stroke="#3c3c3c" stroke-width="0.12">90</text>
<text transform="translate(445.20,121.00) scale(1.0,1.1)" font-size="6.64" font-weight="normal" text-anchor="middle" fill="#3c3c3c" stroke="#3c3c3c" stroke-width="0.12">79</text>
<text transform="translate(479.20,121.00) scale(1.0,1.1)" font-size="6.64" font-weight="normal" text-anchor="middle" fill="#3c3c3c" stroke="#3c3c3c" stroke-width="0.12">68</text>
<text transform="translate(513.20,121.00) scale(1.0,1.1)" font-size="6.64" font-weight="normal" text-anchor="middle" fill="#3c3c3c" stroke="#3c3c3c" stroke-width="0.12">58</text>
<path d="M309.1,7.2 L321.5,7.2 L321.5,7.6 L324.0,7.6 L324.0,8.4 L328.3,8.4 L328.3,9.2 L355.8,9.2 L355.8,11.0 L362.0,11.0 L362.0,12.0 L368.5,12.0 L368.5,13.8 L375.3,13.8 L375.3,15.2 L381.2,15.2 L381.2,16.9 L386.0,16.9 L386.0,17.8 L389.6,17.8 L389.6,19.5 L394.0,19.5 L394.0,20.6 L398.0,20.6 L398.0,23.3 L406.5,23.3 L406.5,25.4 L415.2,25.4 L415.2,27.7 L441.0,27.7 L441.0,30.9 L449.4,30.9 L449.4,31.9 L455.0,31.9 L455.0,33.5 L457.9,33.5 L457.9,35.1 L461.0,35.1 L461.0,37.2 L474.8,37.2 L474.8,39.6 L479.5,39.6 L479.5,43.2 L506.7,43.2 L506.7,45.0 L507.5,45.0 L507.5,46.3 L508.7,46.3" fill="none" stroke="#8e8e8e" stroke-width="1.5" stroke-linejoin="miter"/>
<path d="M309.1,7.2 L355.8,7.2 L355.8,10.1 L383.0,10.1 L383.0,13.1 L386.4,13.1 L386.4,15.9 L390.7,15.9 L390.7,19.0 L397.4,19.0 L397.4,22.6 L415.2,22.6 L415.2,26.2 L441.0,26.2 L441.0,29.8 L460.4,29.8 L460.4,33.0 L462.5,33.0 L462.5,36.2 L478.0,36.2 L478.0,40.8 L511.8,40.8" fill="none" stroke="#1c1c1c" stroke-width="1.25" stroke-linejoin="miter"/>
<text transform="translate(265.30,160.40) scale(1.0,1.0)" font-size="12.03" font-weight="bold" text-anchor="start" fill="#0a0a0a" stroke="#0a0a0a" stroke-width="0.25">D</text>
<text transform="translate(274.80,217.75) rotate(-90)" x="0" y="0" font-size="8.30" font-weight="bold" text-anchor="middle" fill="#222" stroke="#222" stroke-width="0.12" textLength="74.7" lengthAdjust="spacingAndGlyphs">Survival Probability</text>
<line x1="301.60" y1="157.50" x2="301.60" y2="278.90" stroke="#333" stroke-width="1"/>
<line x1="301.10" y1="278.40" x2="518.00" y2="278.40" stroke="#333" stroke-width="1"/>
<line x1="298.90" y1="274.40" x2="301.60" y2="274.40" stroke="#333" stroke-width="1"/>
<text transform="translate(297.30,276.94) scale(1.0,1.1)" font-size="8.04" font-weight="normal" text-anchor="end" fill="#222" stroke="#222" stroke-width="0.12">0.0</text>
<line x1="298.90" y1="263.07" x2="301.60" y2="263.07" stroke="#333" stroke-width="1"/>
<text transform="translate(297.30,265.61) scale(1.0,1.1)" font-size="8.04" font-weight="normal" text-anchor="end" fill="#222" stroke="#222" stroke-width="0.12">0.1</text>
<line x1="298.90" y1="251.74" x2="301.60" y2="251.74" stroke="#333" stroke-width="1"/>
<text transform="translate(297.30,254.28) scale(1.0,1.1)" font-size="8.04" font-weight="normal" text-anchor="end" fill="#222" stroke="#222" stroke-width="0.12">0.2</text>
<line x1="298.90" y1="240.41" x2="301.60" y2="240.41" stroke="#333" stroke-width="1"/>
<text transform="translate(297.30,242.95) scale(1.0,1.1)" font-size="8.04" font-weight="normal" text-anchor="end" fill="#222" stroke="#222" stroke-width="0.12">0.3</text>
<line x1="298.90" y1="229.08" x2="301.60" y2="229.08" stroke="#333" stroke-width="1"/>
<text transform="translate(297.30,231.62) scale(1.0,1.1)" font-size="8.04" font-weight="normal" text-anchor="end" fill="#222" stroke="#222" stroke-width="0.12">0.4</text>
<line x1="298.90" y1="217.75" x2="301.60" y2="217.75" stroke="#333" stroke-width="1"/>
<text transform="translate(297.30,220.29) scale(1.0,1.1)" font-size="8.04" font-weight="normal" text-anchor="end" fill="#222" stroke="#222" stroke-width="0.12">0.5</text>
<line x1="298.90" y1="206.42" x2="301.60" y2="206.42" stroke="#333" stroke-width="1"/>
<text transform="translate(297.30,208.96) scale(1.0,1.1)" font-size="8.04" font-weight="normal" text-anchor="end" fill="#222" stroke="#222" stroke-width="0.12">0.6</text>
<line x1="298.90" y1="195.09" x2="301.60" y2="195.09" stroke="#333" stroke-width="1"/>
<text transform="translate(297.30,197.63) scale(1.0,1.1)" font-size="8.04" font-weight="normal" text-anchor="end" fill="#222" stroke="#222" stroke-width="0.12">0.7</text>
<line x1="298.90" y1="183.76" x2="301.60" y2="183.76" stroke="#333" stroke-width="1"/>
<text transform="translate(297.30,186.30) scale(1.0,1.1)" font-size="8.04" font-weight="normal" text-anchor="end" fill="#222" stroke="#222" stroke-width="0.12">0.8</text>
<line x1="298.90" y1="172.43" x2="301.60" y2="172.43" stroke="#333" stroke-width="1"/>
<text transform="translate(297.30,174.97) scale(1.0,1.1)" font-size="8.04" font-weight="normal" text-anchor="end" fill="#222" stroke="#222" stroke-width="0.12">0.9</text>
<line x1="298.90" y1="161.10" x2="301.60" y2="161.10" stroke="#333" stroke-width="1"/>
<text transform="translate(297.30,163.64) scale(1.0,1.1)" font-size="8.04" font-weight="normal" text-anchor="end" fill="#222" stroke="#222" stroke-width="0.12">1.0</text>
<line x1="308.90" y1="278.40" x2="308.90" y2="281.72" stroke="#333" stroke-width="1"/>
<text transform="translate(308.90,290.00) scale(1.0,1.1)" font-size="7.88" font-weight="normal" text-anchor="middle" fill="#222" stroke="#222" stroke-width="0.12">0</text>
<line x1="331.63" y1="278.40" x2="331.63" y2="281.72" stroke="#333" stroke-width="1"/>
<text transform="translate(331.63,290.00) scale(1.0,1.1)" font-size="7.88" font-weight="normal" text-anchor="middle" fill="#222" stroke="#222" stroke-width="0.12">4</text>
<line x1="354.36" y1="278.40" x2="354.36" y2="281.72" stroke="#333" stroke-width="1"/>
<text transform="translate(354.36,290.00) scale(1.0,1.1)" font-size="7.88" font-weight="normal" text-anchor="middle" fill="#222" stroke="#222" stroke-width="0.12">8</text>
<line x1="377.09" y1="278.40" x2="377.09" y2="281.72" stroke="#333" stroke-width="1"/>
<text transform="translate(377.09,290.00) scale(1.0,1.1)" font-size="7.88" font-weight="normal" text-anchor="middle" fill="#222" stroke="#222" stroke-width="0.12">12</text>
<line x1="399.82" y1="278.40" x2="399.82" y2="281.72" stroke="#333" stroke-width="1"/>
<text transform="translate(399.82,290.00) scale(1.0,1.1)" font-size="7.88" font-weight="normal" text-anchor="middle" fill="#222" stroke="#222" stroke-width="0.12">16</text>
<line x1="422.55" y1="278.40" x2="422.55" y2="281.72" stroke="#333" stroke-width="1"/>
<text transform="translate(422.55,290.00) scale(1.0,1.1)" font-size="7.88" font-weight="normal" text-anchor="middle" fill="#222" stroke="#222" stroke-width="0.12">20</text>
<line x1="445.28" y1="278.40" x2="445.28" y2="281.72" stroke="#333" stroke-width="1"/>
<text transform="translate(445.28,290.00) scale(1.0,1.1)" font-size="7.88" font-weight="normal" text-anchor="middle" fill="#222" stroke="#222" stroke-width="0.12">24</text>
<line x1="468.01" y1="278.40" x2="468.01" y2="281.72" stroke="#333" stroke-width="1"/>
<text transform="translate(468.01,290.00) scale(1.0,1.1)" font-size="7.88" font-weight="normal" text-anchor="middle" fill="#222" stroke="#222" stroke-width="0.12">28</text>
<line x1="490.74" y1="278.40" x2="490.74" y2="281.72" stroke="#333" stroke-width="1"/>
<text transform="translate(490.74,290.00) scale(1.0,1.1)" font-size="7.88" font-weight="normal" text-anchor="middle" fill="#222" stroke="#222" stroke-width="0.12">32</text>
<line x1="513.47" y1="278.40" x2="513.47" y2="281.72" stroke="#333" stroke-width="1"/>
<text transform="translate(513.47,290.00) scale(1.0,1.1)" font-size="7.88" font-weight="normal" text-anchor="middle" fill="#222" stroke="#222" stroke-width="0.12">36</text>
<text transform="translate(411.70,304.90) scale(1.0,1.1)" font-size="8.19" font-weight="bold" text-anchor="middle" fill="#222" stroke="#222" stroke-width="0.2">Months</text>
<text transform="translate(309.60,207.10) scale(1.0,1.1)" font-size="7.98" font-weight="bold" text-anchor="start" fill="#141414" stroke="#141414" stroke-width="0.2" textLength="68.3" lengthAdjust="spacingAndGlyphs">Hazard ratio=1.36</text>
<text transform="translate(309.60,216.00) scale(1.0,1.1)" font-size="7.98" font-weight="bold" text-anchor="start" fill="#141414" stroke="#141414" stroke-width="0.2">95% CI: 0.64–2.89</text>
<text transform="translate(309.60,225.00) scale(1.0,1.1)" font-size="7.98" font-weight="bold" text-anchor="start" fill="#141414" stroke="#141414" stroke-width="0.2"><tspan font-style="italic">p</tspan>-value=0.43</text>
<line x1="309.60" y1="236.50" x2="322.80" y2="236.50" stroke="#9e9e9e" stroke-width="1.0"/>
<text transform="translate(324.60,239.60) scale(1.0,1.1)" font-size="7.98" font-weight="normal" text-anchor="start" fill="#222" stroke="#222" stroke-width="0.12" textLength="97.3" lengthAdjust="spacingAndGlyphs">Intermediate-2 Risk (n=34)</text>
<line x1="427.20" y1="236.50" x2="441.10" y2="236.50" stroke="#2a2a2a" stroke-width="1.0"/>
<text transform="translate(442.70,239.60) scale(1.0,1.1)" font-size="7.98" font-weight="normal" text-anchor="start" fill="#222" stroke="#222" stroke-width="0.12" textLength="62.3" lengthAdjust="spacingAndGlyphs">High Risk (n=63)</text>
<text transform="translate(309.60,252.80) scale(1.0,1.1)" font-size="6.22" font-weight="bold" text-anchor="start" fill="#141414" stroke="#141414" stroke-width="0.06" textLength="144.5" lengthAdjust="spacingAndGlyphs">Number of Patients at Risk—Intermediate-2 Risk</text>
<text transform="translate(309.60,267.00) scale(1.0,1.1)" font-size="6.22" font-weight="bold" text-anchor="start" fill="#141414" stroke="#141414" stroke-width="0.06" textLength="114.9" lengthAdjust="spacingAndGlyphs">Number of Patients at Risk—High Risk</text>
<text transform="translate(308.90,260.10) scale(1.0,1.1)" font-size="6.64" font-weight="normal" text-anchor="middle" fill="#3c3c3c" stroke="#3c3c3c" stroke-width="0.12">34</text>
<text transform="translate(331.63,260.10) scale(1.0,1.1)" font-size="6.64" font-weight="normal" text-anchor="middle" fill="#3c3c3c" stroke="#3c3c3c" stroke-width="0.12">34</text>
<text transform="translate(354.36,260.10) scale(1.0,1.1)" font-size="6.64" font-weight="normal" text-anchor="middle" fill="#3c3c3c" stroke="#3c3c3c" stroke-width="0.12">34</text>
<text transform="translate(377.09,260.10) scale(1.0,1.1)" font-size="6.64" font-weight="normal" text-anchor="middle" fill="#3c3c3c" stroke="#3c3c3c" stroke-width="0.12">33</text>
<text transform="translate(399.82,260.10) scale(1.0,1.1)" font-size="6.64" font-weight="normal" text-anchor="middle" fill="#3c3c3c" stroke="#3c3c3c" stroke-width="0.12">29</text>
<text transform="translate(422.55,260.10) scale(1.0,1.1)" font-size="6.64" font-weight="normal" text-anchor="middle" fill="#3c3c3c" stroke="#3c3c3c" stroke-width="0.12">28</text>
<text transform="translate(445.28,260.10) scale(1.0,1.1)" font-size="6.64" font-weight="normal" text-anchor="middle" fill="#3c3c3c" stroke="#3c3c3c" stroke-width="0.12">27</text>
<text transform="translate(468.01,260.10) scale(1.0,1.1)" font-size="6.64" font-weight="normal" text-anchor="middle" fill="#3c3c3c" stroke="#3c3c3c" stroke-width="0.12">24</text>
<text transform="translate(490.74,260.10) scale(1.0,1.1)" font-size="6.64" font-weight="normal" text-anchor="middle" fill="#3c3c3c" stroke="#3c3c3c" stroke-width="0.12">14</text>
<text transform="translate(513.47,260.10) scale(1.0,1.1)" font-size="6.64" font-weight="normal" text-anchor="middle" fill="#3c3c3c" stroke="#3c3c3c" stroke-width="0.12">6</text>
<text transform="translate(308.90,275.20) scale(1.0,1.1)" font-size="6.64" font-weight="normal" text-anchor="middle" fill="#3c3c3c" stroke="#3c3c3c" stroke-width="0.12">63</text>
<text transform="translate(331.63,275.20) scale(1.0,1.1)" font-size="6.64" font-weight="normal" text-anchor="middle" fill="#3c3c3c" stroke="#3c3c3c" stroke-width="0.12">62</text>
<text transform="translate(354.36,275.20) scale(1.0,1.1)" font-size="6.64" font-weight="normal" text-anchor="middle" fill="#3c3c3c" stroke="#3c3c3c" stroke-width="0.12">61</text>
<text transform="translate(377.09,275.20) scale(1.0,1.1)" font-size="6.64" font-weight="normal" text-anchor="middle" fill="#3c3c3c" stroke="#3c3c3c" stroke-width="0.12">57</text>
<text transform="translate(399.82,275.20) scale(1.0,1.1)" font-size="6.64" font-weight="normal" text-anchor="middle" fill="#3c3c3c" stroke="#3c3c3c" stroke-width="0.12">48</text>
<text transform="translate(422.55,275.20) scale(1.0,1.1)" font-size="6.64" font-weight="normal" text-anchor="middle" fill="#3c3c3c" stroke="#3c3c3c" stroke-width="0.12">46</text>
<text transform="translate(445.28,275.20) scale(1.0,1.1)" font-size="6.64" font-weight="normal" text-anchor="middle" fill="#3c3c3c" stroke="#3c3c3c" stroke-width="0.12">45</text>
<text transform="translate(468.01,275.20) scale(1.0,1.1)" font-size="6.64" font-weight="normal" text-anchor="middle" fill="#3c3c3c" stroke="#3c3c3c" stroke-width="0.12">35</text>
<text transform="translate(490.74,275.20) scale(1.0,1.1)" font-size="6.64" font-weight="normal" text-anchor="middle" fill="#3c3c3c" stroke="#3c3c3c" stroke-width="0.12">22</text>
<text transform="translate(513.47,275.20) scale(1.0,1.1)" font-size="6.64" font-weight="normal" text-anchor="middle" fill="#3c3c3c" stroke="#3c3c3c" stroke-width="0.12">7</text>
<path d="M308.7,161.1 L355.4,161.1 L355.4,162.8 L366.2,162.8 L366.2,164.2 L383.0,164.2 L383.0,168.0 L390.4,168.0 L390.4,170.5 L391.0,170.5 L391.0,173.8 L406.5,173.8 L406.5,177.6 L415.7,177.6 L415.7,180.6 L441.6,180.6 L441.6,183.6 L455.4,183.6 L455.4,184.6 L460.8,184.6 L460.8,187.7 L462.3,187.7 L462.3,190.8 L477.7,190.8 L477.7,193.8 L481.5,193.8 L481.5,194.9 L513.8,194.9" fill="none" stroke="#8e8e8e" stroke-width="1.5" stroke-linejoin="miter"/>
<path d="M308.7,161.1 L318.9,161.1 L318.9,162.4 L366.2,162.4 L366.2,164.4 L375.6,164.4 L375.6,165.8 L378.3,165.8 L378.3,167.1 L380.3,167.1 L380.3,168.2 L387.0,168.2 L387.0,169.5 L389.0,169.5 L389.0,170.5 L395.1,170.5 L395.1,172.2 L397.1,172.2 L397.1,173.8 L399.1,173.8 L399.1,176.3 L405.2,176.3 L405.2,177.2 L407.9,177.2 L407.9,179.0 L409.2,179.0 L409.2,180.3 L455.4,180.3 L455.4,184.6 L463.0,184.6 L463.0,186.2 L466.9,186.2 L466.9,189.2 L473.1,189.2 L473.1,191.5 L481.5,191.5 L481.5,193.8 L488.5,193.8 L488.5,195.4 L489.2,195.4 L489.2,198.5 L500.0,198.5 L500.0,202.8 L513.1,202.8" fill="none" stroke="#1c1c1c" stroke-width="1.25" stroke-linejoin="miter"/>
<text x="378.0" y="207.4" font-size="8.5" font-weight="bold" fill="#141414">*</text>
</svg>
</body></html>
